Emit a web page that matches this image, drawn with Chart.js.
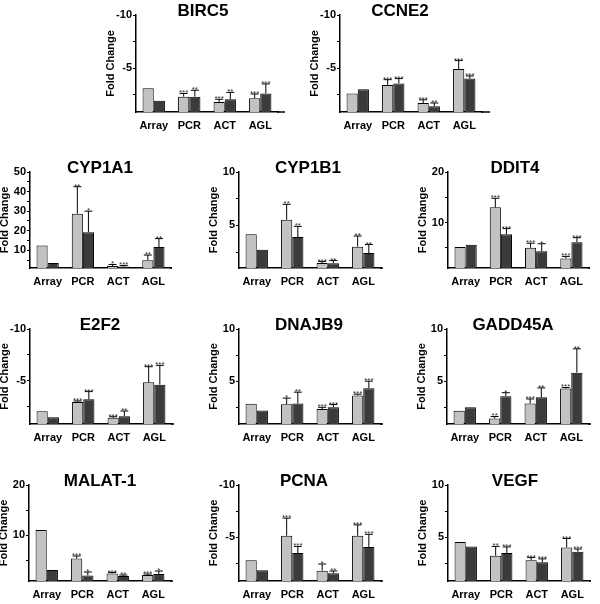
<!DOCTYPE html>
<html>
<head>
<meta charset="utf-8">
<script src="https://cdn.jsdelivr.net/npm/chart.js@4"></script>
<style>
  html, body { margin: 0; padding: 0; background: #fff; }
  body { position: relative; width: 600px; height: 604px; overflow: hidden; }
  canvas { position: absolute; }
</style>
</head>
<body>
<script>
// --- data ---
const genes = ['BIRC5', 'CCNE2', 'CYP1A1', 'CYP1B1', 'DDIT4', 'E2F2', 'DNAJB9', 'GADD45A', 'MALAT-1', 'PCNA', 'VEGF'];
const categories = ['Array', 'PCR', 'ACT', 'AGL'];

// light grey bars, one row per gene
const lightMean = [
  [3.1, 2.3, 1.8, 2.15],
  [2.6, 3.4, 1.7, 4.9],
  [12.5, 28.7, 2.0, 5.0],
  [4.16, 5.53, 1.47, 3.0],
  [5.15, 13.0, 5.0, 2.9],
  [2.07, 2.97, 1.45, 4.87],
  [2.83, 2.8, 2.33, 3.63],
  [2.16, 1.43, 2.86, 4.3],
  [11.0, 5.3, 2.3, 2.0],
  [2.82, 5.16, 1.83, 5.16],
  [4.56, 3.26, 2.83, 4.05]
];
const lightSd = [
  [null, 0.3, 0.25, 0.4],
  [null, 0.5, 0.3, 0.8],
  [null, 13.8, 0.8, 2.6],
  [null, 1.44, 0.13, 1.0],
  [null, 1.8, 0.9, 0.4],
  [null, 0.1, 0.1, 1.5],
  [null, 0.58, 0.17, 0.13],
  [null, 0.19, 0.44, 0.1],
  [null, 0.5, 0.2, 0.2],
  [null, 1.68, 0.64, 1.04],
  [null, 0.89, 0.25, 0.85]
];
const lightSig = [
  ['', '***', '***', '***'],
  ['', '***', '***', '***'],
  ['', '**', '*', '**'],
  ['', '**', '***', '**'],
  ['', '***', '***', '***'],
  ['', '***', '***', '***'],
  ['', '*', '***', '***'],
  ['', '**', '***', '***'],
  ['', '***', '***', '***'],
  ['', '***', '*', '***'],
  ['', '**', '***', '***']
];

// dark bars
const darkMean = [
  [1.9, 2.3, 2.05, 2.6],
  [3.0, 3.55, 1.4, 4.0],
  [3.5, 19.3, 1.8, 11.7],
  [2.7, 3.9, 1.45, 2.4],
  [5.6, 7.7, 4.3, 6.1],
  [1.5, 3.23, 1.6, 4.64],
  [2.19, 2.86, 2.5, 4.33],
  [2.5, 3.57, 3.47, 5.82],
  [3.0, 1.9, 1.8, 2.2],
  [1.87, 3.52, 1.6, 4.1],
  [4.15, 3.52, 2.64, 3.64]
];
const darkSd = [
  [null, 0.6, 0.65, 0.9],
  [null, 0.45, 0.3, 0.25],
  [null, 10.7, 0.5, 4.3],
  [null, 1.0, 0.25, 0.8],
  [null, 1.1, 1.5, 0.9],
  [null, 0.74, 0.5, 1.86],
  [null, 1.09, 0.26, 0.67],
  [null, 0.33, 0.89, 2.28],
  [null, 0.7, 0.2, 0.6],
  [null, 0.63, 0.2, 1.2],
  [null, 0.58, 0.32, 0.26]
];
const darkSig = [
  ['', '**', '**', '***'],
  ['', '***', '**', '***'],
  ['', '*', '***', '**'],
  ['', '**', '**', '**'],
  ['', '***', '*', '***'],
  ['', '***', '**', '***'],
  ['', '**', '***', '***'],
  ['', '*', '**', '**'],
  ['', '*', '**', '*'],
  ['', '***', '**', '***'],
  ['', '***', '***', '***']
];

// axis ranges and which panels show down-regulation (negative labels)
const yMin = [0.85, 0.85, 1, 1, 1, 0.85, 0.9, 0.9, 0.8, 0.85, 0.85];
const yMax = [10, 10, 50, 10, 20, 10, 10, 10, 20, 10, 10];
const negative = [true, true, false, false, false, true, false, false, false, true, false];

// --- panel placement on the page ---
const axisX = [136, 340, 30, 239, 448, 30, 239, 447, 29, 239, 448];
const axisTop = [15, 15, 172, 172, 172, 329, 329, 329, 485, 485, 485];
const axisBottom = [112, 112, 268, 268, 268, 424, 424, 424, 581, 581, 581];
const axisRight = [285, 490, 172, 383, 590, 174, 383, 591, 173, 383, 591];
const titleX = [203, 400, 100, 308, 515, 100, 309, 513, 100, 304, 515];

const FONT = "Arial, 'Liberation Sans', sans-serif";
const Y_W = 36, X_H = 24, PAD_TOP = 30, PLOT_W = 142;

Chart.defaults.font.family = FONT;
Chart.defaults.color = '#000';

const panelTitle = {
  id: 'panelTitle',
  afterDraw(chart, args, opts) {
    const ctx = chart.ctx;
    ctx.save();
    ctx.font = 'bold 17px ' + FONT;
    ctx.fillStyle = '#000';
    ctx.textAlign = 'center';
    ctx.textBaseline = 'middle';
    ctx.fillText(opts.text, opts.x, chart.chartArea.top - 4);
    // x axis line runs a little past the last category
    ctx.strokeStyle = '#000';
    ctx.lineWidth = 1.5;
    ctx.beginPath();
    ctx.moveTo(chart.chartArea.right - 1, chart.chartArea.bottom);
    ctx.lineTo(chart.width, chart.chartArea.bottom);
    ctx.stroke();
    ctx.restore();
  }
};

const errorBars = {
  id: 'errorBars',
  afterDatasetsDraw(chart) {
    const ctx = chart.ctx, ys = chart.scales.y;
    ctx.save();
    ctx.strokeStyle = '#000';
    ctx.lineWidth = 1;
    ctx.fillStyle = '#333';
    ctx.font = '8px ' + FONT;
    ctx.textAlign = 'center';
    ctx.textBaseline = 'alphabetic';
    chart.data.datasets.forEach((ds, d) => {
      chart.getDatasetMeta(d).data.forEach((bar, i) => {
        const sd = ds.sd[i];
        let top = bar.y;
        if (sd) {
          top = ys.getPixelForValue(ds.data[i] + sd);
          ctx.beginPath();
          ctx.moveTo(bar.x, bar.y);
          ctx.lineTo(bar.x, top);
          ctx.moveTo(bar.x - 4, top);
          ctx.lineTo(bar.x + 4, top);
          ctx.stroke();
        }
        if (ds.sig[i]) ctx.fillText(ds.sig[i], bar.x, top + 2);
      });
    });
    ctx.restore();
  }
};

function tickValues(max) {
  const step = max === 50 ? 5 : max / 4;
  const out = [];
  for (let v = step; v <= max + 1e-9; v += step) out.push({ value: v });
  return out;
}

function isMajor(v, max) {
  const major = max === 50 ? 10 : max / 2;
  return Math.abs(v / major - Math.round(v / major)) < 1e-6;
}

genes.forEach((gene, g) => {
  const left = axisX[g] - Y_W;
  const top = axisTop[g] - PAD_TOP;
  const width = axisRight[g] - left;
  const height = axisBottom[g] - top + X_H;
  const canvas = document.createElement('canvas');
  canvas.width = width;
  canvas.height = height;
  canvas.style.left = left + 'px';
  canvas.style.top = top + 'px';
  canvas.style.width = width + 'px';
  canvas.style.height = height + 'px';
  document.body.appendChild(canvas);

  new Chart(canvas.getContext('2d'), {
    type: 'bar',
    data: {
      labels: categories,
      datasets: [
        {
          label: 'grey',
          data: lightMean[g],
          sd: lightSd[g],
          sig: lightSig[g],
          backgroundColor: '#c2c2c2',
          borderColor: '#000',
          borderWidth: 1
        },
        {
          label: 'dark',
          data: darkMean[g],
          sd: darkSd[g],
          sig: darkSig[g],
          backgroundColor: '#3b3b3b',
          borderColor: '#000',
          borderWidth: 1
        }
      ]
    },
    options: {
      responsive: false,
      animation: false,
      events: [],
      layout: { padding: { top: PAD_TOP, right: width - Y_W - PLOT_W, bottom: 0, left: 0 } },
      datasets: { bar: { categoryPercentage: 0.63, barPercentage: 1.0 } },
      plugins: {
        legend: { display: false },
        tooltip: { enabled: false },
        panelTitle: { text: gene, x: titleX[g] - left }
      },
      scales: {
        x: {
          afterFit: s => { s.height = X_H; },
          grid: { display: false, drawTicks: false },
          border: { color: '#000', width: 1.5 },
          ticks: { padding: 7, color: '#000', font: { size: 11, weight: 'bold' } }
        },
        y: {
          min: yMin[g],
          max: yMax[g],
          afterFit: s => { s.width = Y_W; },
          afterBuildTicks: s => { s.ticks = tickValues(yMax[g]); },
          grid: { drawOnChartArea: false, drawTicks: true, tickLength: 3, color: '#000' },
          border: { color: '#000', width: 1.5 },
          ticks: {
            padding: 1,
            autoSkip: false,
            color: '#000',
            font: { size: 11, weight: 'bold' },
            callback: v => isMajor(v, yMax[g]) ? (negative[g] ? '-' + v : String(v)) : ''
          },
          title: {
            display: true,
            text: 'Fold Change',
            color: '#000',
            font: { size: 11, weight: 'bold' },
            padding: { top: 4, bottom: 0 }
          }
        }
      }
    },
    plugins: [panelTitle, errorBars]
  });
});
</script>
</body>
</html>
